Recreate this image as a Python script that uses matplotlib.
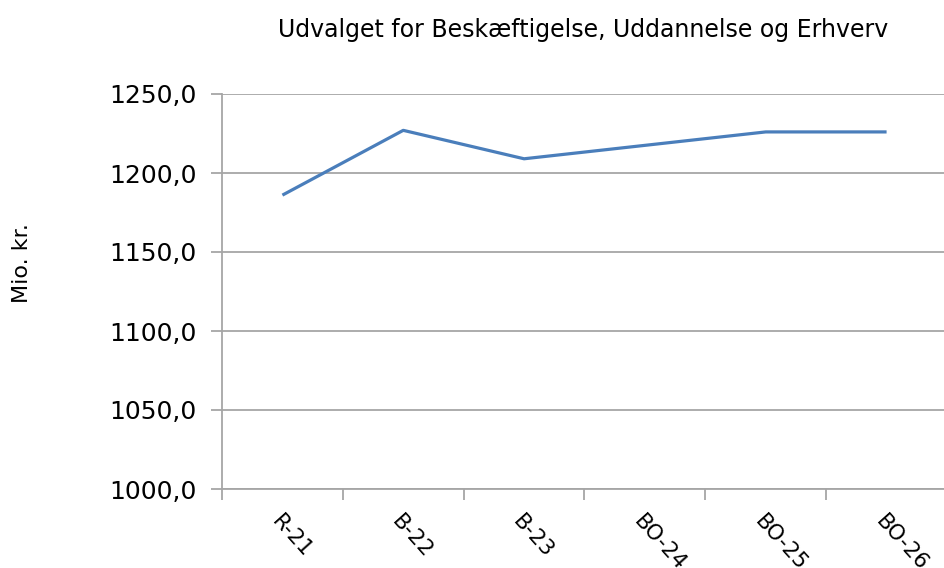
import matplotlib
matplotlib.use('Agg')
from matplotlib import pyplot as plt
from matplotlib.ticker import FuncFormatter

plt.rcParams['font.family'] = ['DejaVu Sans']

categories = ['R-21', 'B-22', 'B-23', 'BO-24', 'BO-25', 'BO-26']
values = [1186.0, 1227.0, 1209.0, 1217.5, 1226.0, 1226.0]
yticks = [1000, 1050, 1100, 1150, 1200, 1250]

grey = '#a6a6a6'

fig = plt.figure(figsize=(9.44, 5.68), dpi=100)
ax = fig.add_axes([222/944, 1 - 489/568, (947 - 222)/944, (489 - 94)/568])

x = range(len(categories))
ax.plot(x, values, color='#4a7ebb', linewidth=2.3, solid_capstyle='butt')

ax.set_xlim(-0.5, len(categories) - 0.5)
ax.set_ylim(1000, 1250)
ax.set_yticks(yticks)
ax.yaxis.set_major_formatter(FuncFormatter(lambda v, p: f'{v:.1f}'.replace('.', ',')))
ax.yaxis.grid(True, color=grey, linewidth=1.3)
ax.set_axisbelow(True)

# category boundaries get the tick marks, labels sit at the centres
ax.set_xticks([i - 0.5 for i in range(len(categories) + 1)])
ax.set_xticklabels([])
ax.set_xticks(list(x), minor=True)
ax.set_xticklabels(categories, minor=True, rotation=-48, ha='left', va='top',
                   rotation_mode='anchor', fontsize=15.5)
ax.tick_params(axis='x', which='minor', length=0, pad=16)
ax.tick_params(axis='x', which='major', length=8, width=1.3, color=grey)
ax.tick_params(axis='y', length=8, width=1.3, color=grey, labelsize=18, pad=10)

for s in ['top', 'right']:
    ax.spines[s].set_visible(False)
for s in ['left', 'bottom']:
    ax.spines[s].set_color(grey)
    ax.spines[s].set_linewidth(1.3)

fig.text(583/944, 1 - 30/568, 'Udvalget for Beskæftigelse, Uddannelse og Erhverv',
         ha='center', va='center', fontsize=17)
fig.text(22/944, 1 - 263/568, 'Mio. kr.', rotation=90, ha='center', va='center',
         fontsize=16)

fig.savefig('out.png', dpi=100)
